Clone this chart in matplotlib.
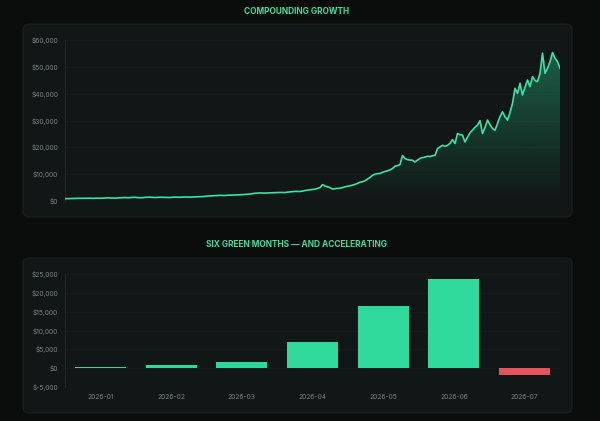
import numpy as np
import matplotlib
matplotlib.use("Agg")
import matplotlib.pyplot as plt
from matplotlib.patches import FancyBboxPatch, PathPatch
from matplotlib.ticker import FuncFormatter

# portfolio value (evenly spaced samples)
growth = [
    850, 870, 900, 920, 950, 1000, 1000, 960, 980, 1020,
    1050, 1000, 1020, 1060, 1000, 1050, 1100, 1180, 1150, 1100,
    1080, 1150, 1200, 1250, 1300, 1220, 1250, 1350, 1400, 1300,
    1200, 1250, 1350, 1400, 1450, 1350, 1300, 1350, 1400, 1380,
    1350, 1320, 1300, 1400, 1450, 1420, 1400, 1450, 1500, 1480,
    1450, 1500, 1550, 1580, 1600, 1650, 1750, 1850, 1900, 1950,
    2000, 2050, 2100, 2080, 2050, 2150, 2200, 2220, 2250, 2280,
    2300, 2380, 2450, 2500, 2600, 2750, 2900, 2950, 3000, 2980,
    2950, 3000, 3050, 3080, 3100, 3150, 3200, 3180, 3150, 3300,
    3400, 3500, 3600, 3580, 3550, 3700, 3900, 4050, 4200, 4300,
    4400, 4700, 5000, 6100, 5600, 5300, 5000, 4500, 4600, 4700,
    4800, 5000, 5300, 5500, 5700, 5900, 6200, 6600, 7000, 7200,
    7600, 8200, 8800, 9600, 10000, 10200, 10300, 10700, 11000, 11300,
    11600, 12100, 13000, 13200, 13600, 17000, 15800, 15450, 15300, 15200,
    14550, 15300, 15900, 16200, 16400, 16700, 16600, 16900, 17060, 19550,
    20200, 20800, 20400, 20800, 21500, 22950, 21450, 25200, 24800, 24560,
    22050, 23800, 25430, 26500, 27500, 28300, 30000, 25200, 27500, 30200,
    28500, 27070, 26400, 29000, 31500, 33300, 31500, 30200, 33000, 36450,
    42060, 40200, 43950, 39560, 42500, 45190, 42700, 46430, 45000, 44550,
    47700, 55200, 47700, 49580, 52000, 55440, 53300, 52050, 49580,
]
growth_ticks = [0, 10000, 20000, 30000, 40000, 50000, 60000]

months = ["2026-01", "2026-02", "2026-03", "2026-04", "2026-05", "2026-06", "2026-07"]
monthly_pnl = [450, 750, 1600, 6900, 16500, 23800, -1900]
pnl_ticks = [-5000, 0, 5000, 10000, 15000, 20000, 25000]

BG = "#0b0d0d"
CARD = "#111716"
CARD_EDGE = "#19201f"
GREEN = "#2ed99b"
LINE = "#3be3a2"
RED = "#e8525a"
TICK = "#7a8582"
GRID = "#151c1b"
SPINE = "#1d2624"
TITLE = "#3ddc9a"

plt.rcParams["font.family"] = ["Inter", "DejaVu Sans"]

fig = plt.figure(figsize=(6.0, 4.21), dpi=100, facecolor=BG)


def card(x0, y0, x1, y1):
    W, H = 600, 421
    box = FancyBboxPatch((x0 / W, 1 - y1 / H), (x1 - x0) / W, (y1 - y0) / H,
                         boxstyle="round,pad=0,rounding_size=0.012",
                         transform=fig.transFigure, facecolor=CARD,
                         edgecolor=CARD_EDGE, linewidth=0.8, zorder=-5)
    fig.patches.append(box)


def money(v, pos=None):
    return "${:,.0f}".format(v)


def style_axes(ax, ticks):
    ax.set_facecolor("none")
    for s in ["top", "right", "bottom"]:
        ax.spines[s].set_visible(False)
    ax.spines["left"].set_color(SPINE)
    ax.spines["left"].set_linewidth(0.8)
    ax.set_yticks(ticks)
    ax.yaxis.set_major_formatter(FuncFormatter(money))
    ax.tick_params(axis="y", length=0, pad=5, labelsize=4.8, labelcolor=TICK)
    ax.grid(axis="y", color=GRID, linewidth=0.6)
    ax.set_axisbelow(True)


card(23, 24, 572, 217)
card(23, 258, 572, 413)

# ---- top: compounding growth line
ax1 = fig.add_axes([65 / 600, 1 - 201 / 421, 495 / 600, 160.7 / 421])
style_axes(ax1, growth_ticks)
x = np.arange(len(growth))
ax1.plot(x, growth, color=LINE, linewidth=1.2, zorder=3)

poly = ax1.fill_between(x, growth, 0, color="none")
clip = PathPatch(poly.get_paths()[0], transform=ax1.transData,
                 facecolor="none", edgecolor="none")
ax1.add_patch(clip)
grad = np.zeros((256, 1, 4))
grad[:, 0, :3] = matplotlib.colors.to_rgb(GREEN)
grad[:, 0, 3] = np.linspace(0.4, 0.0, 256)
im = ax1.imshow(grad, extent=[0, len(growth) - 1, 0, 60000], aspect="auto",
                origin="upper", zorder=2)
im.set_clip_path(clip)
ax1.set_xlim(0, len(growth) - 1)
ax1.set_ylim(0, 60000)
ax1.set_xticks([])

# ---- bottom: monthly bars
ax2 = fig.add_axes([65 / 600, 1 - 387 / 421, 495 / 600, 112.7 / 421])
style_axes(ax2, pnl_ticks)
colors = [GREEN if v >= 0 else RED for v in monthly_pnl]
ax2.bar(range(len(months)), monthly_pnl, width=0.72, color=colors, zorder=3)
ax2.set_xlim(-0.5, len(months) - 0.5)
ax2.set_ylim(-5000, 25000)
ax2.set_xticks(range(len(months)))
ax2.set_xticklabels(months)
ax2.tick_params(axis="x", length=0, pad=5, labelsize=4.8, labelcolor=TICK)

fig.text(0.495, 1 - 11 / 421, "COMPOUNDING GROWTH", ha="center", va="center",
         color=TITLE, fontsize=6, fontweight="bold")
fig.text(0.495, 1 - 244.7 / 421, "SIX GREEN MONTHS \u2014 AND ACCELERATING",
         ha="center", va="center", color=TITLE, fontsize=6, fontweight="bold")

fig.savefig("out.png", dpi=100, facecolor=BG)
